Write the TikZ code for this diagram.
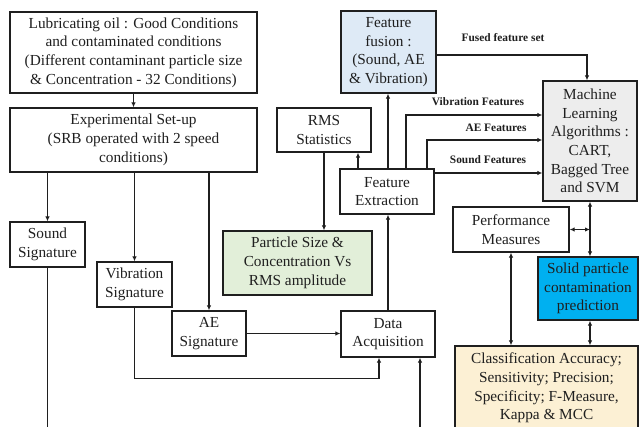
\documentclass[tikz,border=0pt]{standalone}
\usepackage{fontspec}
\setmainfont{Liberation Serif}
\usetikzlibrary{arrows.meta}
\definecolor{fusionblue}{HTML}{DEEAF6}
\definecolor{plotgreen}{HTML}{E2EFD9}
\definecolor{mlgray}{HTML}{EDEDED}
\definecolor{predblue}{HTML}{00B0F0}
\definecolor{metricpeach}{HTML}{FCF0D4}
\definecolor{ink}{HTML}{1F1F1F}
\begin{document}
\begin{tikzpicture}[x=1pt,y=-1pt,
  box/.style={draw=ink,line width=1.3pt,align=center,inner sep=0pt,
    font=\fontsize{15.3}{18.7}\selectfont,text=ink},
  arr/.style={draw=ink,line width=1.1pt,-{Latex[length=5pt,width=4.5pt]}},
  darr/.style={draw=ink,line width=1.1pt,{Latex[length=5pt,width=4.5pt]}-{Latex[length=5pt,width=4.5pt]}},
  ln/.style={draw=ink,line width=1.1pt},
  lbl/.style={font=\fontsize{11.4}{13}\selectfont\bfseries,text=ink,inner sep=0pt}]
\useasboundingbox (0,0) rectangle (639,427);
\clip (0,0) rectangle (639,427);
\fill[white] (0,0) rectangle (639,427);

% boxes
\node[box,minimum width=247pt,minimum height=81pt] (oil) at (133.5,52.5)
  {Lubricating oil : Good Conditions\\and contaminated conditions\\(Different contaminant particle size\\\& Concentration - 32 Conditions)};
\node[box,minimum width=247pt,minimum height=64pt] (setup) at (133.5,140)
  {Experimental Set-up\\(SRB operated with 2 speed\\conditions)};
\node[box,minimum width=75pt,minimum height=45pt] (sound) at (47.5,244.5) {Sound\\Signature};
\node[box,minimum width=75pt,minimum height=45pt] (vib) at (134.5,284.5) {Vibration\\Signature};
\node[box,minimum width=74pt,minimum height=45pt] (ae) at (209,333.5) {AE\\Signature};
\node[box,minimum width=94pt,minimum height=46pt] (daq) at (388,334) {Data\\Acquisition};
\node[box,minimum width=94pt,minimum height=45pt] (fe) at (387,191.5) {Feature\\Extraction};
\node[box,minimum width=94pt,minimum height=44pt] (rms) at (324,130) {RMS\\Statistics};
\node[box,fill=plotgreen,minimum width=149pt,minimum height=64pt] (psc) at (297.5,263)
  {Particle Size \&\\Concentration Vs\\RMS amplitude};
\node[box,fill=fusionblue,minimum width=95pt,minimum height=82pt] (fusion) at (388.5,52)
  {Feature\\fusion :\\(Sound, AE\\\& Vibration)};
\node[box,fill=mlgray,minimum width=94pt,minimum height=120pt] (ml) at (590,141)
  {Machine\\Learning\\Algorithms :\\CART,\\Bagged Tree\\and SVM};
\node[box,minimum width=116pt,minimum height=45pt] (perf) at (511,229.5) {Performance\\Measures};
\node[box,fill=predblue,minimum width=100pt,minimum height=63pt] (solid) at (588,288.5)
  {Solid particle\\contamination\\prediction};
\node[box,fill=metricpeach,minimum width=183pt,minimum height=84pt] (metrics) at (546.5,388)
  {Classification Accuracy;\\Sensitivity; Precision;\\Specificity; F-Measure,\\Kappa \& MCC};

% free ends leaving the lower edge
\coordinate (soundout) at (47.5,432);
\coordinate (daqin) at (420,432);

% connectors
\draw[arr] (oil) -- (setup);
\draw[arr] (sound.north |- setup.south) -- (sound.north);
\draw[arr] (vib.north |- setup.south) -- (vib.north);
\draw[arr] (ae.north |- setup.south) -- (ae.north);
\draw[ln] (sound.south) -- (soundout);
\draw[arr] (vib.south) -- ++(0,71) -| ([xshift=-9pt]daq.south);
\draw[arr] (ae.east) -- (ae.east -| daq.west);
\draw[arr] (daqin) -- (daqin |- daq.south);
\draw[arr] (daq.north) -- (daq.north |- fe.south);
\draw[arr] ([xshift=-29pt]fe.north) -- ([xshift=-29pt]fe.north |- rms.south);
\draw[arr] (rms.south) -- (rms.south |- psc.north);
\draw[arr] ([xshift=1pt]fe.north) -- ([xshift=1pt]fe.north |- fusion.south);
\draw[arr] ([yshift=-3pt]fusion.east) -| ([xshift=-3pt]ml.north);
\draw[arr] ([xshift=19pt]fe.north) |- ([yshift=26pt]ml.west);
\draw[arr] ([xshift=40pt]fe.north) |- ([yshift=1pt]ml.west);
\draw[arr] ([yshift=18.5pt]fe.east) -- ([yshift=18.5pt]fe.east -| ml.west);
\draw[darr] (ml.south) -- (ml.south |- solid.north);
\draw[darr] (perf.east) -- (perf.east -| ml.south);
\draw[darr] (perf.south) -- (perf.south |- metrics.north);
\draw[darr] (ml.south |- solid.south) -- (ml.south |- metrics.north);

% connector labels
\node[lbl] (lfused) at (503,38) {Fused feature set};
\node[lbl] (lvib) at (478,102) {Vibration Features};
\node[lbl] (lae) at (496,128) {AE Features};
\node[lbl] (lsound) at (488,160) {Sound Features};
\end{tikzpicture}
\end{document}
